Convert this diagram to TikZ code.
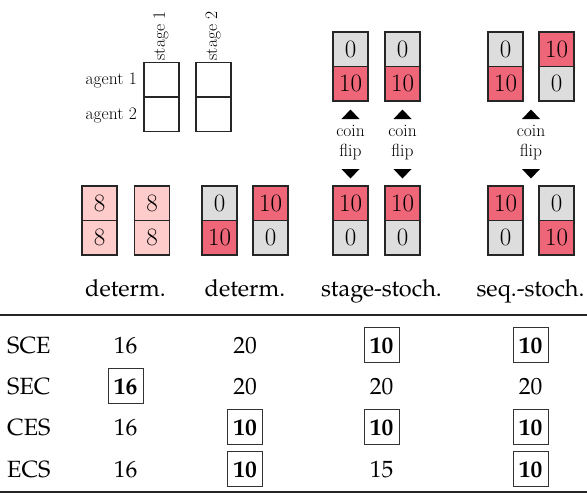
\documentclass[tikz,border=0pt]{standalone}
\usepackage{fontspec}
\newfontfamily\pal{TeX Gyre Pagella}
\definecolor{tred}{HTML}{EE6677}
\definecolor{tgray}{HTML}{DDDDDD}
\definecolor{tpink}{HTML}{FFCCCC}
\begin{document}
\begin{tikzpicture}[x=1pt,y=-1pt,
  cell/.style={draw=black!85, line width=1.1pt, minimum width=35pt, minimum height=34.5pt, inner sep=0pt, font=\fontsize{25}{25}\selectfont},
  g/.style={cell, fill=tgray},
  r/.style={cell, fill=tred},
  p/.style={cell, fill=tpink},
  e/.style={cell},
  small/.style={font=\fontsize{17.5}{20}\selectfont, inner sep=0pt},
  coin/.style={small, align=center},
  tri/.style={fill=black},
  head/.style={font=\pal\fontsize{23.5}{24}\selectfont, anchor=base, inner sep=0pt},
  val/.style={font=\pal\fontsize{23.5}{24}\selectfont, text height=16.5pt, text depth=0pt, inner sep=0pt, minimum width=35pt, minimum height=35pt},
  best/.style={val, draw=black!80, line width=0.9pt, font=\pal\bfseries\fontsize{23.5}{24}\selectfont},
  rowl/.style={font=\pal\fontsize{23.5}{24}\selectfont, text height=16.5pt, text depth=0pt, inner sep=0pt, anchor=west},
  rule/.style={line width=1.2pt, black!85}]
\useasboundingbox (0,0) rectangle (587,496);

% top-left legend
\node[e] (l11) at (161.5,79.5) {};
\node[e] (l12) at (161.5,114.5) {};
\node[e] (l21) at (213.5,79.5) {};
\node[e] (l22) at (213.5,114.5) {};
\node[small, anchor=east] (ag1) at (137,80) {agent 1};
\node[small, anchor=east] (ag2) at (137,115) {agent 2};
\node[small, anchor=west, rotate=90] (st1) at (161,60.5) {stage 1};
\node[small, anchor=west, rotate=90] (st2) at (213,60.5) {stage 2};

% determ. 1
\node[p] (a11) at (99.5,203.25) {8};
\node[p] (a12) at (99.5,237.75) {8};
\node[p] (a21) at (152,203.25) {8};
\node[p] (a22) at (152,237.75) {8};
% determ. 2
\node[g] (b11) at (219.5,203.25) {0};
\node[r] (b12) at (219.5,237.75) {10};
\node[r] (b21) at (270.5,203.25) {10};
\node[g] (b22) at (270.5,237.75) {0};

% stage-stoch.
\node[g] (c11) at (350.5,49.25) {0};
\node[r] (c12) at (350.5,83.75) {10};
\node[g] (c21) at (402.5,49.25) {0};
\node[r] (c22) at (402.5,83.75) {10};
\node[r] (d11) at (350.5,203.25) {10};
\node[g] (d12) at (350.5,237.75) {0};
\node[r] (d21) at (402.5,203.25) {10};
\node[g] (d22) at (402.5,237.75) {0};
\node[coin] (cf1) at (350.5,143) {coin\\flip};
\node[coin] (cf2) at (402.5,143) {coin\\flip};
\fill[tri] (341.5,119) -- (359.5,119) -- (350.5,109.5) -- cycle;
\fill[tri] (393.5,119) -- (411.5,119) -- (402.5,109.5) -- cycle;
\fill[tri] (341.5,169) -- (359.5,169) -- (350.5,178.5) -- cycle;
\fill[tri] (393.5,169) -- (411.5,169) -- (402.5,178.5) -- cycle;

% seq.-stoch.
\node[g] (e11) at (505.5,49.25) {0};
\node[r] (e12) at (505.5,83.75) {10};
\node[r] (e21) at (556.5,49.25) {10};
\node[g] (e22) at (556.5,83.75) {0};
\node[r] (f11) at (505.5,203.25) {10};
\node[g] (f12) at (505.5,237.75) {0};
\node[g] (f21) at (556.5,203.25) {0};
\node[r] (f22) at (556.5,237.75) {10};
\node[coin] (cf3) at (531,143) {coin\\flip};
\fill[tri] (522,119) -- (540,119) -- (531,109.5) -- cycle;
\fill[tri] (522,169) -- (540,169) -- (531,178.5) -- cycle;

% column heads
\node[head] (h1) at (125.5,296) {determ.};
\node[head] (h2) at (245,296) {determ.};
\node[head] (h3) at (381.5,296) {stage-stoch.};
\node[head] (h4) at (530.5,296) {seq.-stoch.};

% rules
\coordinate (tl) at (0,315);
\coordinate (tr) at (587,315);
\coordinate (bl) at (0,492);
\coordinate (br) at (587,492);
\draw[rule] (tl) -- (tr);
\draw[rule] (bl) -- (br);

% rows
\node[rowl] (r1) at (7,345) {SCE};
\node[rowl] (r2) at (7,386) {SEC};
\node[rowl] (r3) at (7,427) {CES};
\node[rowl] (r4) at (7,469) {ECS};

\node[val]  (v11) at (125.5,345) {16};
\node[val]  (v12) at (245,345) {20};
\node[best] (v13) at (381.5,345) {10};
\node[best] (v14) at (530.5,345) {10};

\node[best] (v21) at (125.5,386) {16};
\node[val]  (v22) at (245,386) {20};
\node[val]  (v23) at (381.5,386) {20};
\node[val]  (v24) at (530.5,386) {20};

\node[val]  (v31) at (125.5,427) {16};
\node[best] (v32) at (245,427) {10};
\node[best] (v33) at (381.5,427) {10};
\node[best] (v34) at (530.5,427) {10};

\node[val]  (v41) at (125.5,469) {16};
\node[best] (v42) at (245,469) {10};
\node[val]  (v43) at (381.5,469) {15};
\node[best] (v44) at (530.5,469) {10};
\end{tikzpicture}
\end{document}
